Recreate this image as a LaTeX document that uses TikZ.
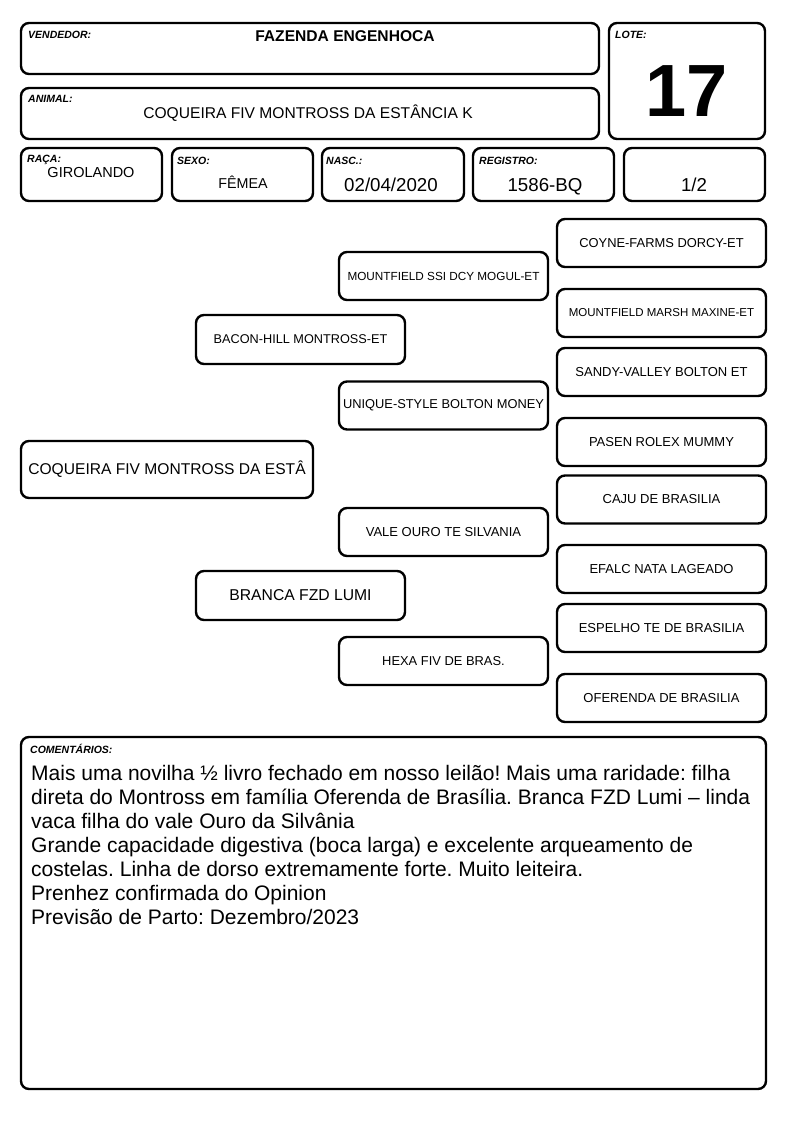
\documentclass[tikz,border=0pt]{standalone}
\usepackage{fontspec}
\setmainfont{Liberation Sans}
\usepackage{tikz}

\newcommand{\fsz}[1]{\fontsize{#1}{#1}\selectfont}
\frenchspacing

\tikzset{
  caixa/.style={line width=2.4pt, rounded corners=8pt},
  rotulo/.style={anchor=base west, inner sep=0pt, font=\fsz{10.5}\bfseries\itshape},
  valor/.style={anchor=base, inner sep=0pt},
  ped/.style={draw, line width=2.4pt, rounded corners=8pt, minimum width=209pt,
    minimum height=48pt, inner sep=0pt, align=center},
}

\begin{document}
\begin{tikzpicture}[x=1pt,y=-1pt]

\useasboundingbox (0,0) rectangle (794,1123);

% cabecalho
\draw[caixa] (21,23) rectangle (599,74);
\draw[caixa] (609,23) rectangle (765,139);
\draw[caixa] (21,88) rectangle (599,139);
\draw[caixa] (21,148) rectangle (162,201);
\draw[caixa] (172,148) rectangle (313,201);
\draw[caixa] (322,148) rectangle (464,201);
\draw[caixa] (473,148) rectangle (614,201);
\draw[caixa] (624,148) rectangle (765,201);

\node [rotulo] (lvend) at (28,39) {VENDEDOR:};
\node [rotulo] (llote) at (615,39) {LOTE:};
\node [rotulo] (lanim) at (28,103) {ANIMAL:};
\node [rotulo] (lraca) at (27,163) {RAÇA:};
\node [rotulo] (lsexo) at (177,165) {SEXO:};
\node [rotulo] (lnasc) at (326,165) {NASC.:};
\node [rotulo] (lreg) at (479,165) {REGISTRO:};

\node [valor, font=\fsz{15.6}\bfseries] (vend) at (345,42) {FAZENDA ENGENHOCA};
\node [valor, font=\fsz{74}\bfseries] (lote) at (687,117) {17};
\node [valor, font=\fsz{15.6}] (anim) at (308,119) {COQUEIRA FIV MONTROSS DA ESTÂNCIA K};
\node [valor, font=\fsz{14.5}] (raca) at (91,178) {GIROLANDO};
\node [valor, font=\fsz{14.3}] (sexo) at (243,189) {FÊMEA};
\node [valor, font=\fsz{18.7}] (nasc) at (391,192) {02/04/2020};
\node [valor, font=\fsz{18.7}] (reg) at (545,192) {1586-BQ};
\node [valor, font=\fsz{18.7}] (frac) at (694,192) {1/2};

% genealogia
\node [ped, minimum width=292pt, minimum height=57pt, font=\fsz{15.6}] (animal) at (167,469.5) {COQUEIRA FIV MONTROSS DA ESTÂ};

\node [ped, minimum height=49pt, font=\fsz{12.7}] (pai) at (300.5,339.5) {BACON-HILL MONTROSS-ET};
\node [ped, minimum height=49pt, font=\fsz{15.7}] (mae) at (300.5,595.5) {BRANCA FZD LUMI};

\node [ped, font=\fsz{11.75}] (avo1) at (443.5,276) {MOUNTFIELD SSI DCY MOGUL-ET};
\node [ped, font=\fsz{12.85}] (avo2) at (443.5,405.5) {UNIQUE-STYLE BOLTON MONEY};
\node [ped, font=\fsz{13}] (avo3) at (443.5,532) {VALE OURO TE SILVANIA};
\node [ped, font=\fsz{12.9}] (avo4) at (443.5,661) {HEXA FIV DE BRAS.};

\node [ped, font=\fsz{12.9}] (bis1) at (661.5,243) {COYNE-FARMS DORCY-ET};
\node [ped, font=\fsz{11.5}] (bis2) at (661.5,313) {MOUNTFIELD MARSH MAXINE-ET};
\node [ped, font=\fsz{13}] (bis3) at (661.5,372) {SANDY-VALLEY BOLTON ET};
\node [ped, font=\fsz{13}] (bis4) at (661.5,442) {PASEN ROLEX MUMMY};
\node [ped, font=\fsz{13}] (bis5) at (661.5,499.5) {CAJU DE BRASILIA};
\node [ped, font=\fsz{13}] (bis6) at (661.5,569) {EFALC NATA LAGEADO};
\node [ped, font=\fsz{13}] (bis7) at (661.5,628) {ESPELHO TE DE BRASILIA};
\node [ped, font=\fsz{13}] (bis8) at (661.5,698) {OFERENDA DE BRASILIA};

% comentarios
\draw[caixa] (21,737) rectangle (766,1089);
\node [rotulo] (lcom) at (30,753) {COMENTÁRIOS:};
\node [anchor=north west, inner sep=0pt, align=left, font=\fontsize{21}{24}\selectfont] (com) at (31,764.7)
  {Mais uma novilha ½ livro fechado em nosso leilão! Mais uma raridade: filha\\
   direta do Montross em família Oferenda de Brasília. Branca FZD Lumi – linda\\
   vaca filha do vale Ouro da Silvânia\\
   Grande capacidade digestiva (boca larga) e excelente arqueamento de\\
   costelas. Linha de dorso extremamente forte. Muito leiteira.\\
   Prenhez confirmada do Opinion\\
   Previsão de Parto: Dezembro/2023};

\end{tikzpicture}
\end{document}
